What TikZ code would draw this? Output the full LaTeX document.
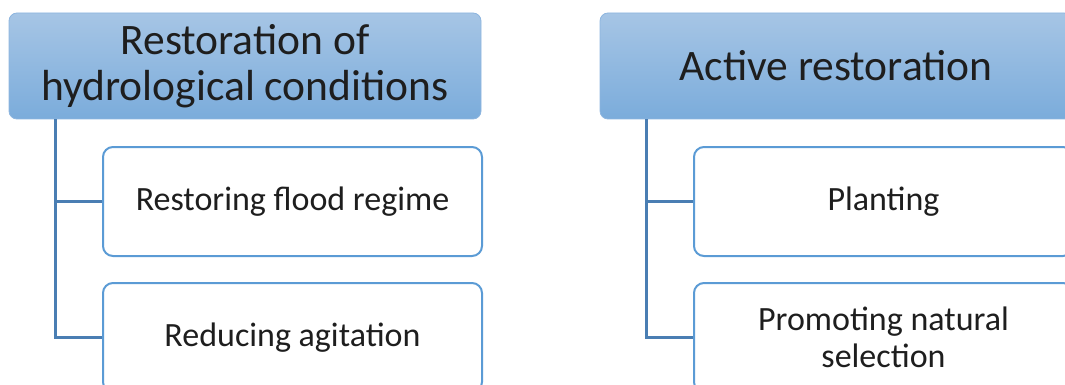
\documentclass[tikz,border=0pt]{standalone}
\usepackage{fontspec}
\setmainfont{Carlito}
\usetikzlibrary{positioning}
\definecolor{headtop}{HTML}{A6C5E5}
\definecolor{headbot}{HTML}{7BACDB}
\definecolor{headedge}{HTML}{8DB5DF}
\definecolor{boxedge}{HTML}{5B9BD5}
\definecolor{linkcol}{HTML}{4A7EB3}
\definecolor{txt}{HTML}{1E1E1E}
\tikzset{
  header/.style={rounded corners=8pt, top color=headtop, bottom color=headbot,
    draw=headedge, line width=0.8pt, minimum width=472pt, minimum height=106pt,
    inner sep=0pt, align=center, text=txt, font=\fontsize{43.5}{46}\selectfont},
  child/.style={rounded corners=10pt, fill=white, draw=boxedge, line width=2pt,
    minimum width=379pt, minimum height=109pt, inner sep=0pt, align=center,
    text=txt, font=\fontsize{34}{37}\selectfont},
  link/.style={draw=linkcol, line width=3pt}
}
\begin{document}
\begin{tikzpicture}[x=1pt,y=1pt]
\useasboundingbox (0,0) rectangle (1065,-385);
\clip (0,0) rectangle (1065,-385);
% left column
\node[header] (h1) at (245,-66) {Restoration of\\hydrological conditions};
\node[child] (c1) at (292.5,-201.5) {Restoring flood regime};
\node[child] (c2) at (292.5,-337.5) {Reducing agitation};
\coordinate (t1) at ([xshift=47pt]h1.south west);
\draw[link] (t1) |- (c1.west);
\draw[link] (t1) |- (c2.west);
% right column
\node[header] (h2) at (836,-66) {Active restoration};
\node[child] (d1) at (883.5,-201.5) {Planting};
\node[child] (d2) at (883.5,-337.5) {Promoting natural\\selection};
\coordinate (t2) at ([xshift=47pt]h2.south west);
\draw[link] (t2) |- (d1.west);
\draw[link] (t2) |- (d2.west);
\end{tikzpicture}
\end{document}
